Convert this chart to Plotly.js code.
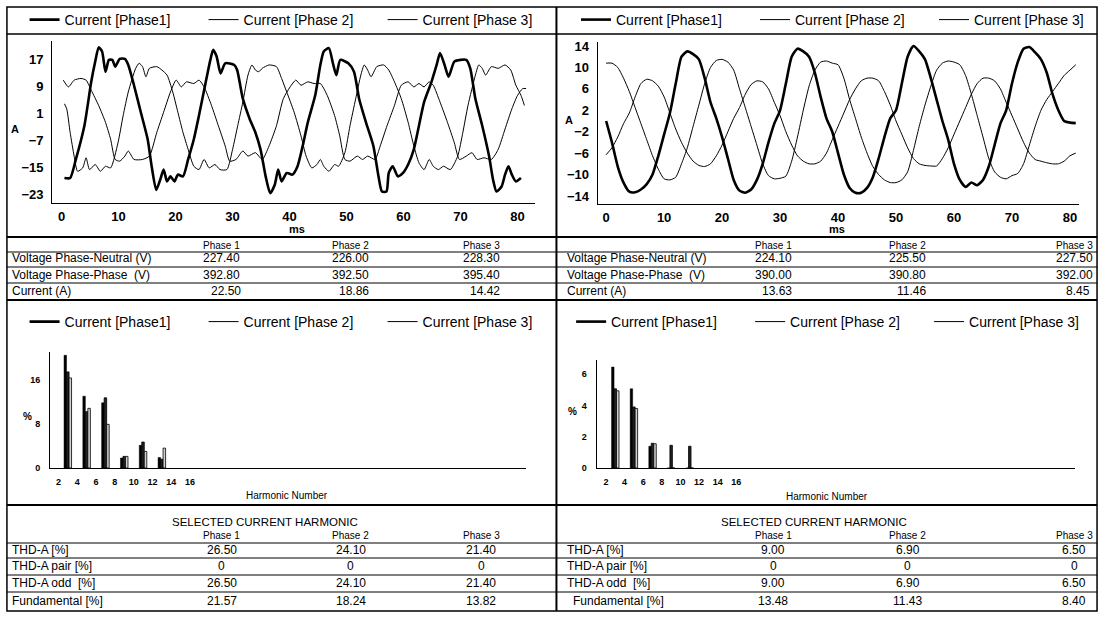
<!DOCTYPE html>
<html><head><meta charset="utf-8">
<script src="https://cdn.plot.ly/plotly-3.0.1.min.js"></script>
<style>html,body{margin:0;padding:0;background:#fff;}#chart{width:1113px;height:624px;}</style>
</head><body><div id="chart"></div>
<script>
// ---------- waveform data (left: unit 1) ----------
const tL1 = [0.5,1.5,2.5,4,5.2,5.9,6.5,7.1,7.7,8.3,8.9,9.4,10.2,11.1,11.7,12.7,13.9,15.1,15.8,16.6,17.3,17.9,18.5,19.1,19.8,20.4,21.3,22.2,23.2,24.1,25.3,26.1,26.6,27.2,27.9,28.7,30.3,30.8,31.8,33,34,34.9,35.8,36.6,37.4,38,38.6,39.5,40.5,41.4,42.3,43.2,44.5,45.4,46,46.9,47.6,48.2,48.9,50.3,51.3,52.2,53.4,54.7,55.6,56.2,57,57.4,58.1,59,59.9,60.8,61.8,62.7,63.6,64.9,65.8,66.4,67.2,67.9,68.9,70,71,71.7,72.6,73.8,75,75.7,76.3,77.2,77.8,78.4,79,79.7,80.6];
const iL1 = [-18,-18,-12.5,-2.5,10.5,16.5,20.7,19.5,13.5,17,17,15,17.3,17.3,15.5,9.5,1.5,-6.5,-14.5,-21.5,-18.5,-15.5,-19,-17.5,-19,-17,-17.5,-12.5,-6.5,0.5,10.5,17,20,18,13,16,15.5,14,5.5,-0.5,-4.5,-9.5,-17.5,-22.5,-20,-15.5,-19,-16.5,-17,-14.5,-8.5,-1.5,6.5,15.5,19.5,20.5,16,12.5,17,16,13.5,5.5,-1.5,-8.5,-17.5,-22,-22,-16.5,-14.5,-17.5,-16.5,-14,-9.5,-2.5,4.5,10.5,15.5,19,15.5,12,16.5,17,17,14.5,5.5,-2.5,-11.5,-18.5,-22,-20.5,-17,-14.5,-17,-19,-18];
const tL2 = [0.3,1.2,2.2,3.4,4.3,5.2,6.5,7.7,8.6,9.4,10.2,11.1,11.7,12.7,14.2,15.4,16.7,17.9,19.1,20.1,21,21.9,23.2,24.1,25,26.3,27.5,28.7,29.5,30.6,31.8,32.7,34,35.2,36.4,37.7,38.9,40.1,41.1,42,43.2,44.3,45.4,46.6,47.9,48.8,49.7,50.6,51.9,52.8,53.7,55,55.9,57.1,58.4,59.6,60.8,61.8,62.7,63.6,64.5,65.2,66.4,67.7,68.9,69.8,71,72,72.9,74.1,75.4,76.6,77.8,79,80,80.9,81.5];
const iL2 = [11,9,11,11.5,11,8,3.5,-1.5,-6.5,-12.5,-13,-11.5,-10,-12.5,-12.5,-11.5,-4.5,1.5,7.5,11,9,10.5,10,11,9,3.5,-2.5,-8.5,-13,-12.5,-10,-11.5,-10.5,-12.5,-8.5,-2.5,5.5,9,11,9.5,10.5,10,10,6.5,0.5,-5.5,-12.5,-13,-11.5,-12.5,-11.5,-12.5,-8.5,-2.5,3.5,9.5,10.5,9,10,9,10.5,9.5,4.5,-1.5,-7.5,-12.5,-11.5,-10.5,-12.5,-12,-12.5,-9.5,-3.5,2.5,6.5,8.5,8.5];
const tL3 = [0.5,0.9,1.5,2.2,2.8,3.7,4.3,4.9,5.9,6.8,7.7,8.6,9.9,10.8,11.7,13,13.6,14.2,14.8,15.4,16.7,17.6,18.5,19.5,20.4,21.3,22.2,23.2,24.1,25,25.9,26.9,27.8,29,30,30.9,31.8,32.7,33.4,34,34.6,35.2,36.4,37.7,38.6,39.5,40.8,42,42.9,43.9,44.8,45.4,46,46.9,47.9,48.6,49.7,50.6,51.6,52.5,53.1,53.7,54.3,55.3,56.5,57.4,58.4,59.6,60.8,61.8,62.7,63.6,64.5,65.2,66.1,67,68.2,69.5,70.4,71.3,72.6,73.2,73.8,74.4,75.4,76.6,77.8,78.8,79.7,80.6,81.2];
const iL3 = [4,2.5,-4.5,-11.5,-16,-15,-12,-15.5,-14,-16,-14.5,-15,-7.5,0.5,7.5,14.5,16,15,12,14.5,15,14,12.5,7.5,1.5,-4.5,-9.5,-14.5,-15.5,-12.5,-15,-14,-15.5,-15.5,-9.5,-2.5,4.5,12.5,15.5,14,13.5,14.5,15.5,15,11.5,7.5,1.5,-5.5,-11.5,-15,-14,-12.5,-14.5,-16,-14,-14.5,-10.5,-2.5,5.5,12.5,15.5,14,12,15,15.5,14,10.5,5.5,-1.5,-8.5,-13.5,-15.5,-12.5,-14.5,-15.5,-14.5,-15.5,-11.5,-4.5,3.5,12.5,15.5,14.5,12.5,15,14.5,15.5,14,9.5,6.5,3.5];

// ---------- waveform data (right: unit 2) ----------
const tR = [0,1,2,3,4,5,6,7,8,9,10,11,12,13,14,15,16,17,18,19,20,21,22,23,24,25,26,27,28,29,30,31,32,33,34,35,36,37,38,39,40,41,42,43,44,45,46,47,48,49,50,51,52,53,54,55,56,57,58,59,60,61,62,63,64,65,66,67,68,69,70,71,72,73,74,75,76,77,78,79,80,81];
const iR1 = [0,-4,-8.5,-11.5,-13.2,-13.3,-12.8,-11.8,-10,-6.5,-2.5,1.5,7,12,13,12.5,11.5,8,3.5,0.5,-3,-7,-11,-13,-13.4,-12.8,-11,-8,-4,-0.5,2,7,12,13.5,13,12,9,4.5,0.5,-2,-6,-10,-12.5,-13.4,-13.4,-12.5,-10.5,-7,-3,0.5,2,7,12,14,13,11.5,8,4,0,-3.5,-8,-11,-12.3,-11.5,-12,-11,-8.5,-4.5,-0.5,2,7,11,13.5,13.8,12.8,11.5,9,5,2,0,-0.3,-0.4];
const iR2 = [10.8,10.8,10,8,5.5,2.5,-0.5,-3.5,-6.5,-9,-10.8,-11,-10.5,-8,-5,-1,3,7,10,11.3,11.5,11,9.5,6,2.5,-1,-4.5,-8,-10.2,-10.8,-10.7,-10.3,-7.5,-3,2,6.5,9.5,11,11.2,10.8,10.5,8,4,0.5,-3,-6,-8.5,-10,-11,-11.5,-11.5,-11,-9.5,-5.5,-1,3,6.5,9.5,10.8,11.2,11,10.5,8.5,5,1,-3,-7,-9.5,-10.5,-10.8,-10.2,-9.8,-8,-4.5,-1,2,4,5.5,7,8.5,9.5,10.5];
const iR3 = [-6.3,-5,-3,-0.5,1.5,4.5,7,7.8,7.5,6.5,4.5,1.5,-1.5,-4,-6,-7.5,-8.3,-8.5,-8,-6.5,-4.5,-2,0.5,2.5,5,6.8,7.5,7.3,6,3.5,1,-2,-4.5,-6.5,-7.5,-8,-8,-7.5,-6,-3.5,-1,1.5,4,6,7.5,8,8,7.5,5.5,3,0,-2.5,-5,-7,-8,-8.3,-8.4,-8.4,-7,-5,-2.5,0,2.5,5,7,8,8,7.5,6,3.5,1,-1.5,-4,-6,-7.2,-7.5,-7.8,-8,-8,-7.5,-6.5,-6];

// ---------- harmonic spectra (%) ----------
const harmL = [3,5,7,9,11,13];
const hL1 = [20.4,13.0,11.8,1.8,4.1,1.9];
const hL2 = [17.4,10.2,12.7,2.1,4.7,1.6];
const hL3 = [16.3,10.8,7.9,2.1,3.0,3.6];
const harmR = [3,5,7,9,11];
const hR1 = [6.45,5.06,1.39,0,0];
const hR2 = [5.06,3.90,1.58,1.45,1.39];
const hR3 = [4.93,3.80,1.55,0,0];

// ---------- names / labels ----------
const seriesNames = ['Current [Phase1]','Current [Phase 2]','Current [Phase 3]'];
const phaseHeads = ['Phase 1','Phase 2','Phase 3'];
const measLabels = ['Voltage Phase-Neutral (V)','Voltage Phase-Phase  (V)','Current (A)'];
const measL = [['227.40','226.00','228.30'],['392.80','392.50','395.40'],['22.50','18.86','14.42']];
const measR = [['224.10','225.50','227.50'],['390.00','390.80','392.00'],['13.63','11.46','8.45']];
const thdTitle = 'SELECTED CURRENT HARMONIC';
const thdLabels = ['THD-A [%]','THD-A pair [%]','THD-A odd  [%]','Fundamental [%]'];
const thdL = [['26.50','24.10','21.40'],['0','0','0'],['26.50','24.10','21.40'],['21.57','18.24','13.82']];
const thdR = [['9.00','6.90','6.50'],['0','0','0'],['9.00','6.90','6.50'],['13.48','11.43','8.40']];

// ---------- layout helpers ----------
const W = 1113, H = 624;
const px = x => x / W;
const py = y => 1 - y / H;
const FF = 'Liberation Sans, Arial, sans-serif';
const widths = [2.6, 1, 1];

const traces = [];
const lineSets = [
  {xs:[tL1,tL2,tL3], ys:[iL1,iL2,iL3], xa:'x', ya:'y', lg:'legend'},
  {xs:[tR,tR,tR], ys:[iR1,iR2,iR3], xa:'x2', ya:'y2', lg:'legend2'}
];
lineSets.forEach(s => {
  for (let k = 0; k < 3; k++) {
    traces.push({type:'scatter', mode:'lines', x:s.xs[k], y:s.ys[k], xaxis:s.xa, yaxis:s.ya,
      legend:s.lg, name:seriesNames[k], line:{color:'#000', width:widths[k], shape:'spline', smoothing:0.6},
      hoverinfo:'skip'});
  }
});
const barStyles = [
  {color:'#000', line:{color:'#000', width:0.5}},
  {color:'#222', line:{color:'#000', width:0.8}},
  {color:'#d0d0d0', line:{color:'#000', width:0.8}}
];
const barSets = [
  {x:harmL, ys:[hL1,hL2,hL3], xa:'x3', ya:'y3', lg:'legend3'},
  {x:harmR, ys:[hR1,hR2,hR3], xa:'x4', ya:'y4', lg:'legend4'}
];
barSets.forEach(s => {
  for (let k = 0; k < 3; k++) {
    traces.push({type:'bar', x:s.x, y:s.ys[k], xaxis:s.xa, yaxis:s.ya, showlegend:false,
      name:seriesNames[k], marker:barStyles[k], hoverinfo:'skip'});
  }
  for (let k = 0; k < 3; k++) {
    traces.push({type:'scatter', mode:'lines', x:[null], y:[null], xaxis:s.xa, yaxis:s.ya,
      legend:s.lg, name:seriesNames[k], line:{color:'#000', width:widths[k]}, hoverinfo:'skip'});
  }
});

const axBase = {showline:true, linecolor:'#000', linewidth:1.4, ticks:'', showgrid:false, zeroline:false, fixedrange:true};
const tfBig = {family:FF, size:13, color:'#000', weight:'bold'};
const tfSmall = {family:FF, size:9, color:'#000', weight:'bold'};

const legendBase = (cx, cy) => ({x:px(cx), y:py(cy), xanchor:'center', yanchor:'middle', orientation:'h',
  entrywidth:134, font:{family:FF, size:14, color:'#000'}, bgcolor:'rgba(0,0,0,0)', borderwidth:0,
  itemclick:false, itemdoubleclick:false});

const shapes = [];
const hline = (y, w, x0 = 7, x1 = 1108) => shapes.push({type:'line', xref:'paper', yref:'paper',
  x0:px(x0), x1:px(x1), y0:py(y), y1:py(y), line:{color:'#000', width:w}});
shapes.push({type:'rect', xref:'paper', yref:'paper', x0:px(7), x1:px(1108), y0:py(7), y1:py(611), line:{color:'#000', width:1.5}});
shapes.push({type:'line', xref:'paper', yref:'paper', x0:px(562), x1:px(562), y0:py(7), y1:py(611), line:{color:'#000', width:2}});
[[34,1.5],[237,2],[252,1],[267,1],[283,1],[300,2],[505,2],[543,1],[558,1],[575,1],[592,1]].forEach(a => hline(a[0], a[1]));

const ann = [];
const txt = (x, y, t, size, anchor, bold) => ann.push({xref:'paper', yref:'paper', x:px(x), y:py(y), text:t,
  showarrow:false, xanchor:anchor || 'center', yanchor:'middle',
  font:{family:FF, size:size, color:'#000', weight: bold ? 'bold' : 'normal'}});

// axis unit labels
txt(15, 129, 'A', 11, 'center', true);
txt(575, 120, 'A', 11, 'center', true);
txt(300, 229, 'ms', 11, 'center', true);
txt(845, 229, 'ms', 11, 'center', true);
txt(28, 416, '%', 10, 'center', true);
txt(578, 411, '%', 10, 'center', true);
txt(290, 496, 'Harmonic Number', 10, 'center', false);
txt(835, 497, 'Harmonic Number', 10, 'center', false);

// measurement tables
const colL = [224, 354, 486], colR = [781, 917, 1085];
const rowsMeas = [258, 275, 291];
[[colL, measL, 10], [colR, measR, 571]].forEach(([cols, vals, lx]) => {
  phaseHeads.forEach((h, j) => txt(cols[j], 246, h, 10, 'center', false));
  measLabels.forEach((lab, i) => {
    txt(lx, rowsMeas[i], lab, 12, 'left', false);
    vals[i].forEach((v, j) => txt(cols[j] + (i === 2 ? 4 : 0), rowsMeas[i], v, 12, 'center', false));
  });
});

// THD tables
const rowsThd = [550, 566, 583, 601];
[[colL, thdL, 10, 268], [colR, thdR, 571, 822]].forEach(([cols, vals, lx, tx], side) => {
  txt(tx, 522, thdTitle, 11.5, 'center', false);
  phaseHeads.forEach((h, j) => txt(cols[j], 535, h, 10, 'center', false));
  thdLabels.forEach((lab, i) => {
    txt(lx + (side === 1 && i === 3 ? 6 : 0), rowsThd[i], lab, 12, 'left', false);
    vals[i].forEach((v, j) => txt(cols[j], rowsThd[i], v, 12, 'center', false));
  });
});

const layout = {
  width:W, height:H, margin:{l:0, r:0, t:0, b:0}, paper_bgcolor:'#fff', plot_bgcolor:'#fff',
  showlegend:true, barmode:'group', bargap:0.6, bargroupgap:0,
  font:{family:FF, color:'#000'},
  xaxis: Object.assign({}, axBase, {domain:[px(53), px(540)], range:[-1.6, 83], tick0:0, dtick:10, tickfont:tfBig, anchor:'y', ticklabelstandoff:1}),
  yaxis: Object.assign({}, axBase, {domain:[py(203), py(41)], range:[-25.4, 22.6], tick0:1, dtick:8, tickfont:tfBig, anchor:'x', ticklabelstandoff:5}),
  xaxis2: Object.assign({}, axBase, {domain:[px(604), px(1090)], range:[-1.4, 81.6], tick0:0, dtick:10, tickfont:tfBig, anchor:'y2', ticklabelstandoff:1}),
  yaxis2: Object.assign({}, axBase, {domain:[py(204), py(42)], range:[-15.5, 14.75], tick0:2, dtick:4, tickfont:tfBig, anchor:'x2', ticklabelstandoff:5}),
  xaxis3: Object.assign({}, axBase, {domain:[px(51), px(531)], range:[1.16, 51.7], tickvals:[2,4,6,8,10,12,14,16], tickfont:tfSmall, anchor:'y3', ticklabelstandoff:5}),
  yaxis3: Object.assign({}, axBase, {domain:[py(468), py(352)], range:[0, 21], tickvals:[0,8,16], tickfont:tfSmall, anchor:'x3', ticklabelstandoff:7}),
  xaxis4: Object.assign({}, axBase, {domain:[px(603), px(1086)], range:[1.04, 52.4], tickvals:[2,4,6,8,10,12,14,16], tickfont:tfSmall, anchor:'y4', ticklabelstandoff:5}),
  yaxis4: Object.assign({}, axBase, {domain:[py(468), py(360)], range:[0, 6.9], tickvals:[0,2,4,6], tickfont:tfSmall, anchor:'x4', ticklabelstandoff:7}),
  legend: legendBase(296, 20),
  legend2: legendBase(853, 20),
  legend3: legendBase(296, 322),
  legend4: legendBase(848, 322),
  shapes: shapes,
  annotations: ann
};

Plotly.newPlot('chart', traces, layout, {displayModeBar:false, staticPlot:true});
</script></body></html>
